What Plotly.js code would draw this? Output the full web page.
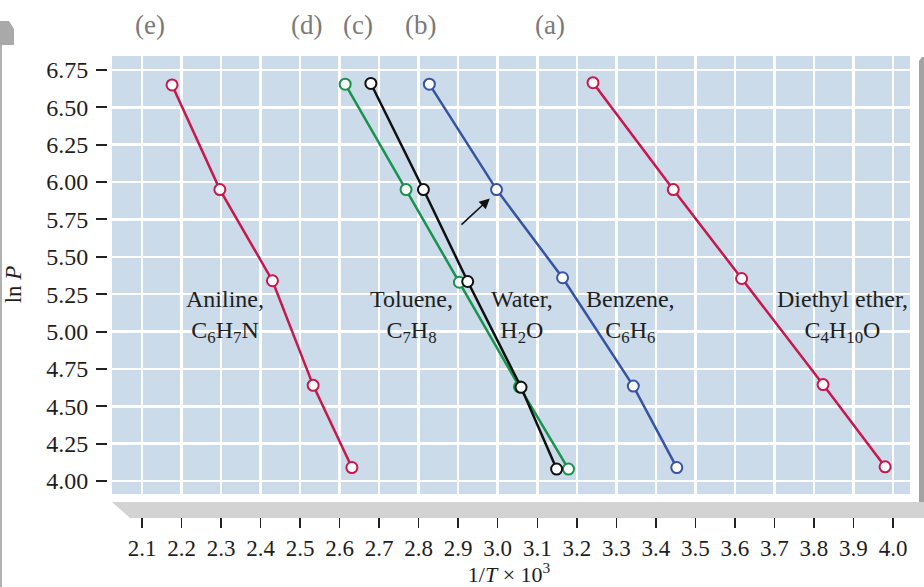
<!DOCTYPE html>
<html>
<head>
<meta charset="utf-8">
<script src="https://cdn.plot.ly/plotly-3.0.1.min.js"></script>
<style>html,body{margin:0;padding:0;background:#fff;}#chart{width:924px;height:587px;}</style>
</head>
<body>
<div id="chart"></div>
<script>
// ---- data (1/T x 10^3, ln P) ----
const anilineX  = [2.176, 2.297, 2.430, 2.533, 2.631];
const anilineY  = [6.65, 5.95, 5.34, 4.64, 4.09];
const tolueneX  = [2.614, 2.768, 2.903, 3.055, 3.179];
const tolueneY  = [6.655, 5.95, 5.33, 4.63, 4.08];
const waterX    = [2.679, 2.812, 2.924, 3.059, 3.149];
const waterY    = [6.66, 5.95, 5.335, 4.627, 4.08];
const benzeneX  = [2.827, 2.997, 3.164, 3.343, 3.453];
const benzeneY  = [6.655, 5.95, 5.36, 4.635, 4.09];
const etherX    = [3.241, 3.444, 3.617, 3.823, 3.980];
const etherY    = [6.665, 5.95, 5.355, 4.645, 4.095];

const seriesNames = ["Aniline", "Toluene", "Water", "Benzene", "Diethyl ether"];
const seriesLabels = ["Aniline,<br>C<sub>6</sub>H<sub>7</sub>N", "Toluene,<br>C<sub>7</sub>H<sub>8</sub>",
  "Water,<br>H<sub>2</sub>O", "Benzene,<br>C<sub>6</sub>H<sub>6</sub>", "Diethyl ether,<br>C<sub>4</sub>H<sub>10</sub>O"];
const labelX = [2.31, 2.783, 3.062, 3.335, 3.871];
const labelY = [5.10, 5.10, 5.10, 5.10, 5.10];
const partLetters = ["(e)", "(d)", "(c)", "(b)", "(a)"];
const xTickVals = [2.1,2.2,2.3,2.4,2.5,2.6,2.7,2.8,2.9,3.0,3.1,3.2,3.3,3.4,3.5,3.6,3.7,3.8,3.9,4.0];
const yTickVals = [4.00,4.25,4.50,4.75,5.00,5.25,5.50,5.75,6.00,6.25,6.50,6.75];

// ---- styling ----
const W = 924, H = 587;
const PX = x => x / W, PY = y => 1 - y / H;
const SERIF = "Liberation Serif, Times New Roman, serif";
const colors = {aniline:"#c8174a", toluene:"#17934c", water:"#111111", benzene:"#3753a3", ether:"#c8174a"};

function tr(x, y, c, name) {
  return {x: x, y: y, name: name, type: "scatter", mode: "lines+markers",
    line: {color: c, width: 2.5},
    marker: {symbol: "circle", size: 11, color: "#ffffff", line: {color: c, width: 2}},
    hoverinfo: "skip", showlegend: false};
}
const data = [
  tr(anilineX, anilineY, colors.aniline, seriesNames[0]),
  tr(tolueneX, tolueneY, colors.toluene, seriesNames[1]),
  tr(waterX, waterY, colors.water, seriesNames[2]),
  tr(benzeneX, benzeneY, colors.benzene, seriesNames[3]),
  tr(etherX, etherY, colors.ether, seriesNames[4])
];

const annotations = [];
seriesLabels.forEach((t, i) => annotations.push({
  x: labelX[i], y: labelY[i], xref: "x", yref: "y", text: t, showarrow: false,
  xanchor: "center", yanchor: "middle", align: "center",
  font: {family: SERIF, size: 24, color: "#1e1e1e"}
}));
const letterPx = [149.5, 306, 358, 420, 550];
partLetters.forEach((t, i) => annotations.push({
  x: PX(letterPx[i]), y: PY(25), xref: "paper", yref: "paper", text: t, showarrow: false,
  xanchor: "center", yanchor: "middle", font: {family: SERIF, size: 27, color: "#7a7a7a"}
}));
annotations.push({x: 2.980, y: 5.891, ax: 2.9045, ay: 5.706, xref: "x", yref: "y", axref: "x", ayref: "y",
  text: "", showarrow: true, arrowhead: 2, arrowsize: 1.3, arrowwidth: 1.6, arrowcolor: "#111"});

function poly(pts, fill, layer) {
  let d = pts.map((p, i) => (i ? "L" : "M") + PX(p[0]).toFixed(5) + "," + PY(p[1]).toFixed(5)).join(" ") + " Z";
  return {type: "path", xref: "paper", yref: "paper", path: d, fillcolor: fill, line: {width: 0}, layer: layer || "below"};
}
const shapes = [
  poly([[112,56],[910,56],[910,494],[112,494]], "#cbdbe9", "below"),
  poly([[0,21],[9,21],[14,29],[14,45],[0,45]], "#a9a9a9", "below"),
  poly([[0,45],[2,45],[2,587],[0,587]], "#b0b0b0", "below"),
  poly([[919,61],[922,57],[924,57],[924,503],[919,503]], "#a3a3a3", "below"),
  poly([[112,502],[924,502],[924,518],[130,518]], "#d3d3d3", "above")
];

const layout = {
  width: W, height: H,
  margin: {l: 0, r: 0, t: 0, b: 0, autoexpand: false},
  paper_bgcolor: "#ffffff", plot_bgcolor: "rgba(0,0,0,0)",
  showlegend: false,
  font: {family: SERIF, color: "#1e1e1e"},
  xaxis: {
    domain: [PX(108), PX(910)], range: [2.01398, 4.043], anchor: "y",
    tickmode: "array", tickvals: xTickVals, ticktext: xTickVals.map(v => v.toFixed(1)),
    ticks: "outside", ticklen: 14, tickwidth: 1.5, tickcolor: "#222",
    showgrid: true, gridcolor: "#ffffff", gridwidth: 2.5, zeroline: false, showline: false,
    tickfont: {family: SERIF, size: 23, color: "#1e1e1e"}, automargin: false,
    title: {text: "1/<i>T</i> × 10<sup>3</sup>", font: {family: SERIF, size: 22, color: "#1e1e1e"}, standoff: 6}
  },
  yaxis: {
    domain: [PY(513), PY(56)], range: [3.7859, 6.8437], anchor: "x",
    tickmode: "array", tickvals: yTickVals, ticktext: yTickVals.map(v => v.toFixed(2)),
    ticks: "outside", ticklen: 11, tickwidth: 2, tickcolor: "#222", ticklabelstandoff: 3,
    showgrid: true, gridcolor: "#ffffff", gridwidth: 2.5, zeroline: false, showline: false,
    tickfont: {family: SERIF, size: 24, color: "#1e1e1e"}, automargin: false,
    title: {text: "ln <i>P</i>", font: {family: SERIF, size: 23, color: "#1e1e1e"}, standoff: 18}
  },
  annotations: annotations,
  shapes: shapes
};

Plotly.newPlot("chart", data, layout, {displayModeBar: false, staticPlot: true});
</script>
</body>
</html>
